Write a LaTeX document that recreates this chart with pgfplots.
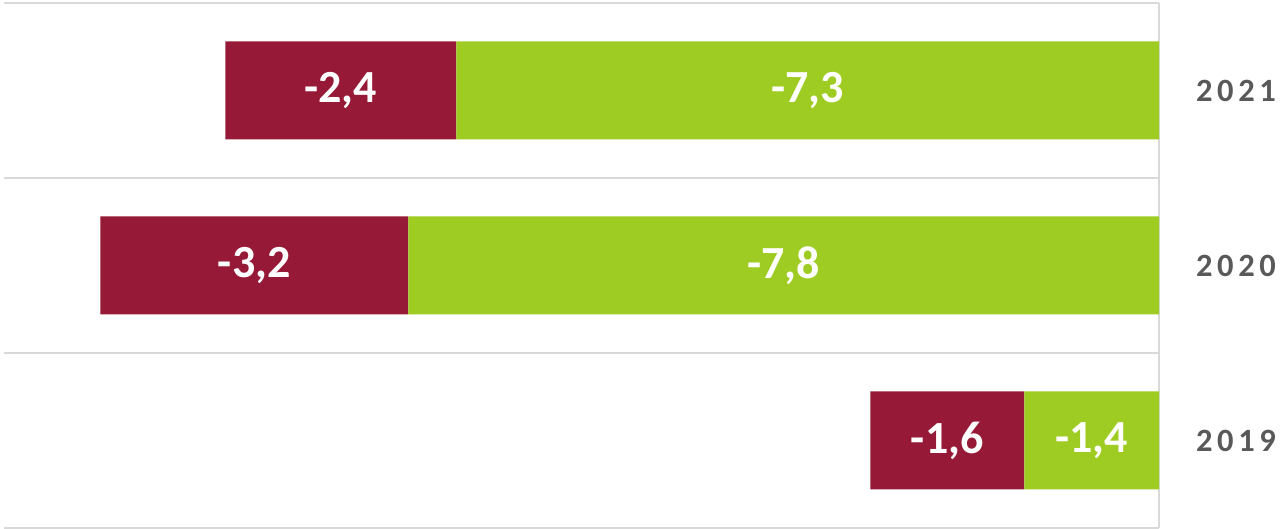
\documentclass[border=0pt]{standalone}
\usepackage{pgfplots}
\pgfplotsset{compat=1.18}
\usepackage{fontspec}
\setmainfont{Carlito}[BoldFont={Carlito Bold}]
\newfontfamily\yearfont{Carlito Bold}[LetterSpace=14]
\definecolor{barred}{RGB}{150,25,55}
\definecolor{bargreen}{RGB}{158,204,34}
\definecolor{gridgray}{RGB}{217,217,217}
\definecolor{labgray}{RGB}{89,89,89}
\pgfplotsset{base/.style={scale only axis, width=1155pt, height=525pt,
  xmin=-12, xmax=0, ymin=-0.5, ymax=2.5, at={(4pt,1pt)}, anchor=south west,
  axis line style={draw=none}, xtick=\empty}}
\begin{document}
\begin{tikzpicture}
\begin{axis}[base, xbar stacked, bar width=0.56,
  ytick={0,1,2}, yticklabels={2019,2020,2021}, yticklabel pos=right,
  major tick length=0pt, minor tick length=0pt,
  minor ytick={-0.5,0.5,1.5,2.5}, yminorgrids,
  minor grid style={gridgray, line width=1.5pt},
  extra x ticks={0}, extra x tick labels={},
  extra x tick style={grid=major, major grid style={gridgray, line width=1.5pt}},
  yticklabel style={font=\yearfont\fontsize{32.5}{33}\selectfont, text=labgray, anchor=west, inner sep=0pt, xshift=37pt}]
\addplot[fill=bargreen, draw=none] coordinates {(-1.4,0) (-7.8,1) (-7.3,2)};
\addplot[fill=barred, draw=none] coordinates {(-1.6,0) (-3.2,1) (-2.4,2)};
\end{axis}
\begin{axis}[base, hide axis]
\addplot[draw=none, mark=none, nodes near coords, point meta=explicit symbolic,
  every node near coord/.style={anchor=center, text=white, font=\bfseries\fontsize{46}{46}\selectfont}]
  coordinates {(-0.7,0) [-1,4] (-2.2,0) [-1,6] (-3.9,1) [-7,8] (-9.4,1) [-3,2] (-3.65,2) [-7,3] (-8.5,2) [-2,4]};
\end{axis}
\pgfresetboundingbox
\path[use as bounding box] (0,0) rectangle (1281pt,529pt);
\end{tikzpicture}
\end{document}
